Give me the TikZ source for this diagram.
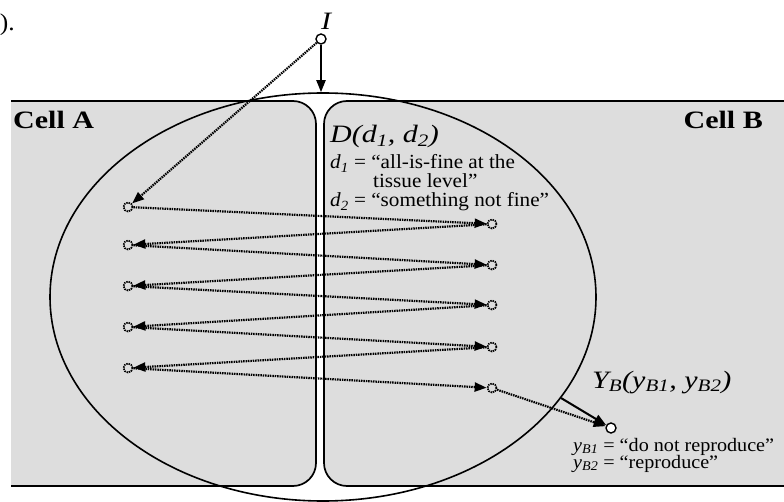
\documentclass[tikz,border=0pt]{standalone}
\usepackage{fontspec}
\setmainfont{Liberation Serif}[FakeStretch=1.2]
\newfontfamily\notefont{Liberation Serif}[FakeStretch=1.06]
\usetikzlibrary{shapes.geometric,arrows.meta}
\definecolor{cellgray}{RGB}{221,221,221}
\begin{document}
\begin{tikzpicture}[x=1pt,y=-1pt,
  cellbox/.style={fill=cellgray,draw=black,line width=1.7pt,rounded corners=23pt},
  membrane/.style={draw,ellipse,line width=1.6pt,minimum width=546pt,minimum height=408pt,inner sep=0pt},
  dotpt/.style={circle,draw,dash pattern=on 1.5pt off 0.9pt,line width=1.7pt,minimum size=9pt,inner sep=0pt},
  solidpt/.style={circle,draw,fill=white,line width=1.4pt,minimum size=10pt,inner sep=0pt},
  dotarrow/.style={line width=2.2pt,dash pattern=on 1.5pt off 0.9pt,-{Triangle[length=12pt,width=9pt]}},
  solarrow/.style={line width=2pt,-{Triangle[length=12pt,width=9pt]}},
  biglabel/.style={font=\fontsize{25}{28}\selectfont\itshape,inner sep=0pt},
  celllabel/.style={font=\fontsize{25}{28}\selectfont\bfseries,inner sep=0pt},
  dtext/.style={font=\notefont\fontsize{20}{20}\selectfont,inner sep=0pt,align=left},
  ytext/.style={font=\notefont\fontsize{19}{19}\selectfont,inner sep=0pt,align=left},
]
\useasboundingbox (0,0) rectangle (784,502);
% cells
\path[cellbox] (11,101) -- (316,101) -- (316,486) -- (11,486);
\path[cellbox] (786,101) -- (324,101) -- (324,486) -- (786,486);
% membrane
\node[membrane] (mem) at (323,297) {};
% points
\node[solidpt] (I) at (321,39) {};
\node[dotpt] (a1) at (128,207) {};
\node[dotpt] (a2) at (128,245) {};
\node[dotpt] (a3) at (128,286) {};
\node[dotpt] (a4) at (128,327) {};
\node[dotpt] (a5) at (128,368) {};
\node[dotpt] (b1) at (492,224) {};
\node[dotpt] (b2) at (492,265) {};
\node[dotpt] (b3) at (492,305) {};
\node[dotpt] (b4) at (492,347) {};
\node[dotpt] (b5) at (492,388) {};
\node[solidpt] (Y) at (611,428) {};
\coordinate (mE) at (mem.-23);
% arrows
\draw[solarrow] (I) -- (I |- mem.north);
\draw[dotarrow] (I) -- (a1);
\draw[dotarrow] (a1) -- (b1);
\draw[dotarrow] (b1) -- (a2);
\draw[dotarrow] (a2) -- (b2);
\draw[dotarrow] (b2) -- (a3);
\draw[dotarrow] (a3) -- (b3);
\draw[dotarrow] (b3) -- (a4);
\draw[dotarrow] (a4) -- (b4);
\draw[dotarrow] (b4) -- (a5);
\draw[dotarrow] (a5) -- (b5);
\draw[dotarrow] (b5) -- (Y);
\draw[solarrow] (mE) -- (Y);
% labels
\node[biglabel,font=\notefont\fontsize{24}{26}\selectfont,anchor=base east] (frag) at (15,31) {).};
\node[biglabel,anchor=base] (Ilab) at (326,30) {I};
\node[celllabel,anchor=base west] (cA) at (13,129) {Cell A};
\node[celllabel,anchor=base east] (cB) at (763,129) {Cell B};
\node[biglabel,anchor=base west] (Dlab) at (330,143) {D(d\textsubscript{1}, d\textsubscript{2})};
\node[dtext,anchor=base west] (d1) at (330,169) {\textit{d}\textsubscript{\textit{1}} = “all-is-fine at the};
\node[dtext,anchor=base west] (d1b) at (373,188) {tissue level”};
\node[dtext,anchor=base west] (d2) at (330,207) {\textit{d}\textsubscript{\textit{2}} = “something not fine”};
\node[biglabel,anchor=base west] (Ylab) at (592,388) {Y\textsubscript{B}(y\textsubscript{B1}, y\textsubscript{B2})};
\node[ytext,anchor=base west] (y1) at (573,451) {\textit{y}\textsubscript{\textit{B1}} = “do not reproduce”};
\node[ytext,anchor=base west] (y2) at (573,468) {\textit{y}\textsubscript{\textit{B2}} = “reproduce”};
\end{tikzpicture}
\end{document}
